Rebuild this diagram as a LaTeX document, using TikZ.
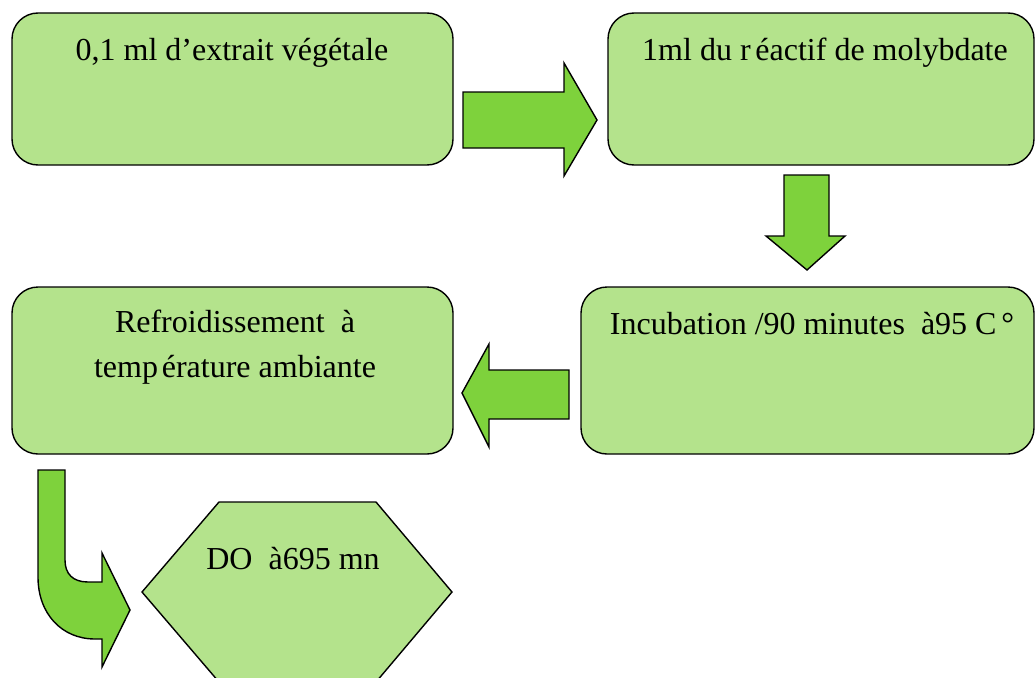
\documentclass[tikz,border=0pt]{standalone}
\usepackage{fontspec}
\setmainfont{Liberation Serif}
\definecolor{boxfill}{RGB}{180,227,140}
\definecolor{arrfill}{RGB}{126,210,60}
\begin{document}
\begin{tikzpicture}[x=1pt,y=-1pt,
  stepbox/.style={draw=black,line width=1.4pt,fill=boxfill,rounded corners=26pt,inner sep=0pt},
  blockarrow/.style={draw=black,line width=1.4pt,fill=arrfill,line join=miter},
  txt/.style={anchor=base,inner sep=0pt,font=\fontsize{32}{38}\selectfont}]
\useasboundingbox (0,0) rectangle (1035,677);
% boxes
\node[stepbox,minimum width=441pt,minimum height=152pt] (b1) at (232.5,89) {};
\node[stepbox,minimum width=426pt,minimum height=152pt] (b2) at (821,89) {};
\node[stepbox,minimum width=453pt,minimum height=167pt] (b3) at (807.5,370.5) {};
\node[stepbox,minimum width=441pt,minimum height=167pt] (b4) at (232.5,370.5) {};
% hexagon
\coordinate (hx) at (297,592);
\draw[line width=1.4pt,fill=boxfill,line join=miter] (142,592) -- (219,502) -- (376,502) -- (452,592) -- (376,682) -- (219,682) -- cycle;
% texts
\node[txt] (t1) at (232,60) {0,1 ml d’extrait végétale};
\node[txt] (t2) at (825,60) {1ml du r\kern0.15em éactif de molybdate};
\node[txt] (t3) at (812,334) {Incubation /90 minutes \ à95 C\kern0.15em °};
\node[txt] (t4a) at (235,332) {Refroidissement \ à};
\node[txt] (t4b) at (235,377) {temp\kern0.12em érature ambiante};
\node[txt] (t5) at (293,569) {DO \ à695 mn};
% right arrow b1 -> b2
\draw[blockarrow] (463,92) -- (564,92) -- (564,63) -- (597,120) -- (564,176) -- (564,148) -- (463,148) -- cycle;
% down arrow b2 -> b3
\draw[blockarrow] (784,175) -- (829,175) -- (829,236) -- (845,236) -- (807,270) -- (766,236) -- (784,236) -- cycle;
% left arrow b3 -> b4
\draw[blockarrow] (569,370) -- (489,370) -- (489,344) -- (462,393) -- (489,447) -- (489,419) -- (569,419) -- cycle;
% bent arrow b4 -> hexagon
\draw[blockarrow] (38,470) -- (65,470) -- (65,560) .. controls (65,574) and (73,582) .. (88,582) -- (102,582) -- (102,553) -- (130,610) -- (102,667) -- (102,639) -- (95,639) .. controls (62,639) and (38,614) .. (38,577) -- cycle;
\end{tikzpicture}
\end{document}
